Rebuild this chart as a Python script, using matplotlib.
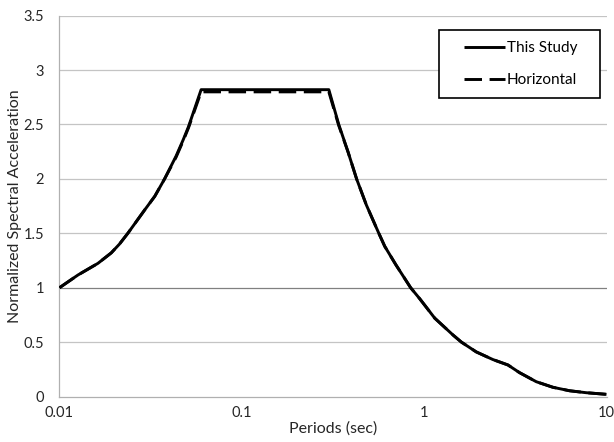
import numpy as np
import matplotlib
matplotlib.use("Agg")
import matplotlib.pyplot as plt
from matplotlib.legend_handler import HandlerLine2D

# Normalized response spectra (period in seconds, Sa normalized by PGA)
periods = [0.01, 0.01263, 0.01625, 0.01922, 0.0213, 0.0237, 0.0293, 0.0333, 0.0377, 0.0436,
           0.0477, 0.051, 0.0598, 0.300, 0.340, 0.382, 0.426, 0.482, 0.564, 0.608, 0.70,
           0.843, 0.944, 1.143, 1.44, 1.60, 1.93, 2.38, 2.88, 3.33, 4.12, 5.08, 6.27,
           7.74, 10.0]
this_study = [1.00, 1.117, 1.224, 1.32, 1.40, 1.50, 1.714, 1.84, 2.00, 2.21,
              2.36, 2.48, 2.82, 2.82, 2.50, 2.25, 2.00, 1.76, 1.50, 1.38, 1.21,
              1.00, 0.90, 0.72, 0.565, 0.50, 0.41, 0.34, 0.29, 0.22, 0.136, 0.085, 0.053,
              0.035, 0.02]
horizontal = [1.00, 1.117, 1.224, 1.32, 1.40, 1.50, 1.714, 1.84, 2.00, 2.20,
              2.35, 2.47, 2.80, 2.80, 2.49, 2.25, 2.00, 1.76, 1.50, 1.38, 1.21,
              1.00, 0.90, 0.72, 0.565, 0.50, 0.41, 0.34, 0.29, 0.22, 0.136, 0.085, 0.053,
              0.035, 0.02]

x_ticks = [0.01, 0.1, 1, 10]
x_tick_labels = ["0.01", "0.1", "1", "10"]
y_ticks = [0, 0.5, 1, 1.5, 2, 2.5, 3, 3.5]
y_tick_labels = ["0", "0.5", "1", "1.5", "2", "2.5", "3", "3.5"]

plt.rcParams["font.family"] = ["Lato", "DejaVu Sans"]
text_color = "#262626"

fig = plt.figure(figsize=(6.14, 4.42), dpi=100)
ax = fig.add_axes([0.0969, 0.1029, 0.8909, 0.8616])

ax.set_xscale("log")
ax.set_xlim(0.01, 10)
ax.set_ylim(0, 3.5)

# horizontal gridlines; the unit line is drawn darker
for v in y_ticks[1:]:
    ax.axhline(v, color="#808080" if v == 1 else "#c4c4c4", lw=0.9, zorder=1)

ax.plot(periods, this_study, color="black", lw=2.1, solid_capstyle="butt",
        solid_joinstyle="round", label="This Study", zorder=3)
ax.plot(periods, horizontal, color="black", lw=2.1, dashes=(6.0, 2.6),
        label="Horizontal", zorder=4)

ax.set_xticks(x_ticks)
ax.set_xticklabels(x_tick_labels)
ax.xaxis.set_minor_locator(matplotlib.ticker.NullLocator())
ax.set_yticks(y_ticks)
ax.set_yticklabels(y_tick_labels)
ax.tick_params(axis="both", length=0, labelsize=10.5, colors=text_color)
ax.tick_params(axis="y", pad=11)
ax.tick_params(axis="x", pad=7)

for side in ("top", "right"):
    ax.spines[side].set_visible(False)
for side in ("left", "bottom"):
    ax.spines[side].set_color("#b0b0b0")
    ax.spines[side].set_linewidth(0.9)

ax.set_xlabel("Periods (sec)", fontsize=11.5, color=text_color, labelpad=1)
ax.set_ylabel("Normalized Spectral Acceleration", fontsize=11.5, color=text_color)
ax.yaxis.set_label_coords(-0.068, 0.5)


class InsetLine(HandlerLine2D):
    """Legend line sample indented from the left edge of its handle box."""
    def get_xdata(self, legend, xdescent, ydescent, width, height, fontsize):
        x = np.array([-xdescent + 0.86 * fontsize, -xdescent + width])
        return x, x


def add_legend(width_frac):
    leg = ax.legend(loc="upper left", bbox_to_anchor=(0.694, 0.783, width_frac, 0.1795),
                    mode="expand", fontsize=11, frameon=True, fancybox=False,
                    framealpha=1, edgecolor="black", borderpad=0.75,
                    handlelength=3.59, handletextpad=0.11, labelspacing=1.15,
                    borderaxespad=0,
                    handler_map={matplotlib.lines.Line2D: InsetLine()})
    leg.get_frame().set_linewidth(1.2)
    for t in leg.get_texts():
        t.set_color("black")
    return leg


# legend box spans about 161 px; adjust the anchor width so the frame fits it
target_px = 161.0
w = 0.295
leg = add_legend(w)
for _ in range(3):
    fig.canvas.draw()
    got = leg.get_window_extent().width
    w *= target_px / got
    leg.remove()
    leg = add_legend(w)

fig.savefig("out.png", dpi=100)
